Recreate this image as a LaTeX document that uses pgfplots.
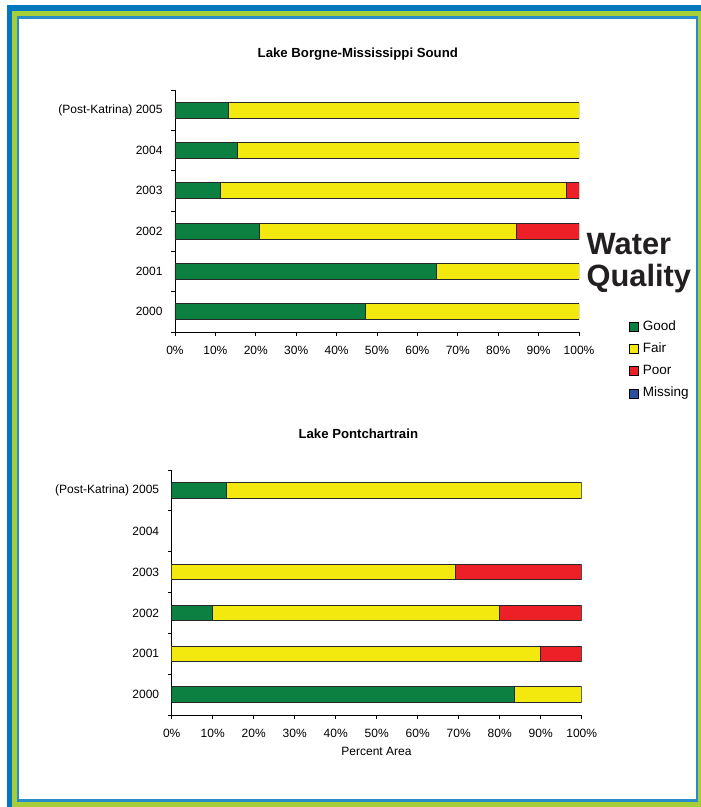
\documentclass[border=0pt]{standalone}
\usepackage{fontspec}
\setmainfont{Liberation Sans}
\usepackage{pgfplots}
\usepackage{pgfplotstable}
\pgfplotsset{compat=1.18}
\definecolor{good}{RGB}{12,128,64}
\definecolor{fair}{RGB}{243,233,14}
\definecolor{poor}{RGB}{236,32,38}
\definecolor{miss}{RGB}{46,78,160}
\definecolor{frameblue}{RGB}{0,119,190}
\definecolor{framegreen}{RGB}{166,206,57}
\definecolor{framethin}{RGB}{40,140,200}
\definecolor{wq}{RGB}{35,31,32}
\definecolor{barline}{RGB}{40,40,40}

% Lake Borgne-Mississippi Sound (cat 0 = 2000 ... 5 = 2005)
\pgfplotstableread{
cat good fair poor
0 47.2 52.8 0
1 64.8 35.2 0
2 20.8 63.7 15.5
3 11.2 85.6 3.2
4 15.5 84.5 0
5 13.2 86.8 0
}\borgne

% Lake Pontchartrain
\pgfplotstableread{
cat good fair poor
0 83.5 16.5 0
1 0 89.8 10.2
2 9.9 70.1 20.0
3 0 69.2 30.8
4 0 0 0
5 13.4 86.6 0
}\pontch

\pgfplotsset{
  lakeaxis/.style={
    scale only axis,
    xbar stacked,
    xmin=0, xmax=100, ymin=-0.5, ymax=5.5,
    axis x line*=bottom, axis y line*=left,
    axis line style={black, line width=0.7pt},
    tick align=outside,
    xtick={0,10,...,100},
    xticklabels={0\%,10\%,20\%,30\%,40\%,50\%,60\%,70\%,80\%,90\%,100\%},
    ytick={0,...,5},
    yticklabels={2000,2001,2002,2003,2004,{(Post-Katrina) 2005}},
    minor ytick={-0.5,0.5,...,5.5},
    tick style={black, line width=0.7pt},
    major y tick style={draw=none},
    minor y tick style={draw=black},
    major tick length=4pt, minor tick length=4pt,
    ticklabel style={font=\fontsize{12}{14}\selectfont},
    xticklabel shift=7pt,
    yticklabel shift=5pt,
  },
  barsty/.style={draw=barline, line width=0.7pt, fill=#1},
  sqlegend/.style={legend image code/.code={\draw[##1] (0pt,-4.5pt) rectangle (9pt,4.5pt);}},
}

\begin{document}
\begin{tikzpicture}
% frame
\fill[white] (0pt,0pt) rectangle (701pt,-807pt);
\fill[frameblue] (6.7pt,-4.7pt) rectangle (701pt,-807pt);
\fill[framegreen] (12pt,-11pt) rectangle (701pt,-807pt);
\fill[framethin] (17.3pt,-16.2pt) rectangle (698.2pt,-801.5pt);
\fill[white] (19.3pt,-18.5pt) rectangle (696.2pt,-799.2pt);

% titles
\node[anchor=base, font=\bfseries\fontsize{13.2}{15}\selectfont] at (357.8pt,-57.3pt) {Lake Borgne-Mississippi Sound};
\node[anchor=base, font=\bfseries\fontsize{13.2}{15}\selectfont] at (358.3pt,-438pt) {Lake Pontchartrain};
\node[anchor=base, font=\fontsize{12}{14}\selectfont] at (376.5pt,-755.7pt) {Percent Area};

% Water Quality
\node[anchor=base west, inner sep=0pt, text=wq, font=\bfseries\fontsize{30.8}{32}\selectfont] at (586.5pt,-254.3pt) {Water};
\node[anchor=base west, inner sep=0pt, text=wq, font=\bfseries\fontsize{30.8}{32}\selectfont] at (586.5pt,-286.7pt) {Quality};

% top chart
\begin{axis}[lakeaxis, at={(175pt,-332pt)}, anchor=south west,
  width=404pt, height=242pt, bar width=16pt]
  \addplot[barsty=good] table[x=good, y=cat] {\borgne};
  \addplot[barsty=fair] table[x=fair, y=cat] {\borgne};
  \addplot[barsty=poor] table[x=poor, y=cat] {\borgne};
\end{axis}

% bottom chart
\begin{axis}[lakeaxis, at={(171.7pt,-715pt)}, anchor=south west,
  width=410pt, height=245pt, bar width=15.5pt]
  \addplot[barsty=good] table[x=good, y=cat] {\pontch};
  \addplot[barsty=fair] table[x=fair, y=cat] {\pontch};
  \addplot[barsty=poor] table[x=poor, y=cat] {\pontch};
\end{axis}

% legend
\begin{axis}[hide axis, scale only axis, width=1pt, height=1pt,
  at={(629.3pt,-320pt)}, anchor=north west,
  xmin=0, xmax=1, ymin=0, ymax=1,
  legend style={at={(0,1)}, anchor=north west, draw=none, fill=none,
    inner sep=0pt, outer sep=0pt, row sep=9.3pt, column sep=3.8pt,
    nodes={inner sep=0pt, text height=10pt, text depth=3pt,
      font=\fontsize{13.5}{15}\selectfont}},
  legend cell align=left]
  \addlegendimage{sqlegend, fill=good, draw=black, line width=0.7pt}
  \addlegendentry{Good}
  \addlegendimage{sqlegend, fill=fair, draw=black, line width=0.7pt}
  \addlegendentry{Fair}
  \addlegendimage{sqlegend, fill=poor, draw=black, line width=0.7pt}
  \addlegendentry{Poor}
  \addlegendimage{sqlegend, fill=miss, draw=black, line width=0.7pt}
  \addlegendentry{Missing}
\end{axis}
\end{tikzpicture}
\end{document}
